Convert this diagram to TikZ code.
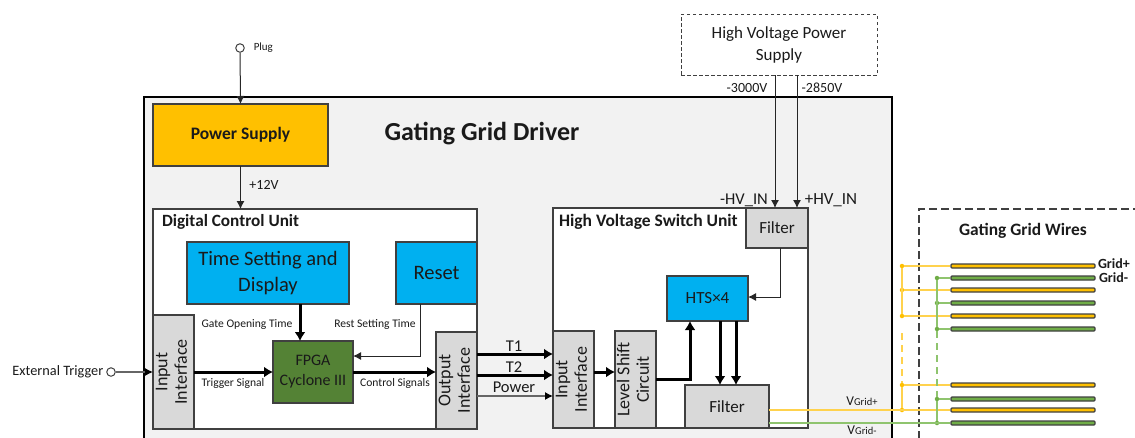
\documentclass[tikz,border=0pt]{standalone}
\usepackage{xcolor}
\usepackage{fontspec}
\setmainfont{Carlito}
\usetikzlibrary{arrows.meta}
\usetikzlibrary{positioning}
\definecolor{boxline}{HTML}{404040}
\definecolor{wireor}{HTML}{FFC000}
\definecolor{wiregr}{HTML}{70AD47}
\definecolor{linkorc}{HTML}{FFD24D}
\definecolor{linkgrc}{HTML}{8FC46E}
\definecolor{fpgagr}{HTML}{548235}
\definecolor{bluebox}{HTML}{00B0F0}
\definecolor{graybox}{HTML}{D9D9D9}
\definecolor{inkc}{HTML}{1A1A1A}
\newcommand{\fs}[1]{\fontsize{#1}{#1}\selectfont}
\newcommand{\vlabel}[2]{\rotatebox{90}{\begin{tabular}{@{}c@{}}#1\\[1.5pt]#2\end{tabular}}}
\tikzset{
    sized/.style 2 args = {minimum width=#1 pt, minimum height=#2 pt, inner sep=0pt, outer sep=0pt},
    block/.style = {draw=boxline, line width=1.2pt, align=center, text=inkc},
    unitbox/.style = {block, fill=white},
    graynode/.style = {block, fill=graybox, font=\fs{18}},
    bluenode/.style = {block, fill=bluebox, font=\fs{20.5}},
    lab/.style = {inner sep=0pt, outer sep=0pt, text=inkc, align=center},
    thinarrow/.style = {draw=black!85, line width=1pt, -{Latex[length=8pt,width=8pt]}},
    grayarrow/.style = {draw=black!60, line width=1.2pt, -{Latex[length=8pt,width=8pt]}, /tikz/arrows={-{Latex[length=8pt,width=8pt,black]}}},
    thickarrow/.style = {draw=black, line width=3pt, -{Latex[length=9pt,width=11pt]}},
    linkor/.style = {draw=linkorc, line width=1.2pt},
    linkgr/.style = {draw=linkgrc, line width=1.2pt},
    dotor/.style = {circle, fill=wireor, minimum size=4.5pt, inner sep=0pt},
    dotgr/.style = {circle, fill=wiregr, minimum size=4.5pt, inner sep=0pt},
    wirebar/.style = {draw=boxline, line width=1.2pt, rounded corners=1pt, minimum width=144pt, minimum height=4pt, inner sep=0pt},
    portc/.style = {circle, draw=boxline, fill=white, line width=1pt, minimum size=8.5pt, inner sep=0pt},
}
\begin{document}
\begin{tikzpicture}[x=1pt, y=-1pt]
\useasboundingbox (0,0) rectangle (1135,437);
\clip (0,0) rectangle (1135,437);
% driver and outer frames
\node[sized={748}{380}, draw=black, line width=2.4pt, fill=black!5] at (518,287) (driver) {};
\node[sized={300}{270}, draw=boxline, line width=1.2pt, dashed, dash pattern=on 8pt off 4pt] at (1069,344) (wires) {};
\node[lab, font=\fs{26}\bfseries] at (482,134) (title) {Gating Grid Driver};
\node[lab, font=\fs{17.4}\bfseries] at (1023,231) (wirestitle) {Gating Grid Wires};
% high voltage supply
\node[sized={196}{61}, block, fill=white, dashed, line width=1pt, dash pattern=on 3.5pt off 2.5pt, font=\fs{17}] at (779,44.5) (hvps) {High Voltage Power\\[5pt]Supply};
% plug and power
\node[portc] at (240,48) (plug) {};
\node[lab, font=\fs{11}, right=9pt of plug] (pluglab) {Plug};
\node[sized={175}{62}, block, fill=wireor, font=\fs{17.5}\bfseries] at (240.5,135) (power) {Power Supply};
% digital control unit
\node[sized={324}{220}, unitbox] at (315,319) (dcu) {};
\node[lab, font=\fs{17.2}\bfseries, anchor=west] at (162,222) (dculab) {Digital Control Unit};
\node[sized={162}{62}, bluenode] at (268,273) (timeset) {Time Setting and\\[6pt]Display};
\node[sized={81}{62}, bluenode] at (436.5,273) (reset) {Reset};
\node[sized={41}{114}, graynode] at (173.5,372) (dinput) {\vlabel{Input}{Interface}};
\node[sized={80}{62}, block, fill=fpgagr, font=\fs{16}] at (313,372) (fpga) {FPGA\\[4pt]Cyclone III};
\node[sized={41}{97}, graynode] at (456.5,380.5) (doutput) {\vlabel{Output}{Interface}};
% high voltage switch unit
\node[sized={255}{220}, unitbox] at (680.5,318) (hvsu) {};
\node[lab, font=\fs{17.5}\bfseries, anchor=west] at (559,222) (hvsulab) {High Voltage Switch Unit};
\node[sized={62}{40}, graynode, font=\fs{17}] at (777,228) (hvfilter) {Filter};
\node[sized={81}{45}, block, fill=bluebox, font=\fs{17}] at (707.5,298.5) (hts) {HTS×4};
\node[sized={41}{97}, graynode] at (573.5,379.5) (hinput) {\vlabel{Input}{Interface}};
\node[sized={41}{97}, graynode] at (635.5,379.5) (level) {\vlabel{Level Shift}{Circuit}};
\node[sized={84}{43}, graynode, font=\fs{17}] at (727,406.5) (outfilter) {Filter};
% external trigger
\node[portc] at (111,372) (extport) {};
\node[lab, font=\fs{14.3}, left=3pt of extport] (extlab) {External Trigger};
\draw[grayarrow] (extport) -- (dinput.west |- extport);
% arrows, digital part
\draw[thinarrow] (plug) -- (power.north);
\draw[thinarrow] (power.south) -- (dcu.north -| power.south);
\draw[thickarrow] (dinput.east |- fpga.west) -- (fpga.west);
\draw[thickarrow] (fpga.east) -- (doutput.west |- fpga.east);
\draw[thickarrow] (timeset.south -| 300,0) -- (fpga.north -| 300,0);
\draw[thinarrow] (reset.south -| 420,0) -- (420,356) -- (fpga.east |- 0,356);
% links between the units
\draw[thickarrow] (doutput.east |- 0,354) -- (hinput.west |- 0,354);
\draw[thickarrow] (doutput.east |- 0,375) -- (hinput.west |- 0,375);
\draw[grayarrow] (doutput.east |- 0,396) -- (hinput.west |- 0,396);
\node[lab, font=\fs{16.5}] at (514,346) (t1lab) {T1};
\node[lab, font=\fs{16.5}] at (514,367) (t2lab) {T2};
\node[lab, font=\fs{16.5}] at (514,387) (powerlab) {Power};
% arrows, high voltage part
\draw[thickarrow] (hinput.east |- 0,372) -- (level.west |- 0,372);
\draw[thickarrow] (level.east |- 0,379) -- (690,379) -- (hts.south -| 690,0);
\draw[thickarrow] (hts.south -| 720,0) -- (outfilter.north -| 720,0);
\draw[thickarrow] (hts.south -| 736,0) -- (outfilter.north -| 736,0);
\draw[thinarrow] (hvfilter.south -| 780,0) -- (780,297) -- (hts.east |- 0,297);
\draw[thinarrow] (hvps.south -| 775,0) -- (hvfilter.north -| 775,0);
\draw[thinarrow] (hvps.south -| 797,0) -- (hvfilter.north -| 797,0);
% small labels
\node[lab, font=\fs{11.6}] at (247,324) (gatelab) {Gate Opening Time};
\node[lab, font=\fs{11.6}] at (375,324) (restlab) {Rest Setting Time};
\node[lab, font=\fs{11.6}] at (233,383) (triglab) {Trigger Signal};
\node[lab, font=\fs{11.6}] at (395,383) (ctrllab) {Control Signals};
\node[lab, font=\fs{14}] at (264,185) (v12lab) {+12V};
\node[lab, font=\fs{14}] at (747,88) (m3000lab) {-3000V};
\node[lab, font=\fs{14}] at (822,88) (m2850lab) {-2850V};
\node[lab, font=\fs{16.5}] at (744,200) (hvminus) {-HV\_IN};
\node[lab, font=\fs{17}] at (831,200) (hvplus) {+HV\_IN};
\node[lab, font=\fs{13.5}] at (862,401) (vplus) {V{\fs{10.5}Grid+}};
\node[lab, font=\fs{13.5}] at (862,430) (vminus) {V{\fs{10.5}Grid-}};
% grid wires
\foreach \wy in {266,290,316,385,410} {
    \node[wirebar, fill=wireor] at (1023,\wy) (wor\wy) {};
    \node[dotor] at (902,\wy) (dor\wy) {};
}
\foreach \wy in {278,303,329,399,423} {
    \node[wirebar, fill=wiregr] at (1023,\wy) (wgr\wy) {};
    \node[dotgr] at (937,\wy) (dgr\wy) {};
}
\foreach \wy in {266,290,316,385}
    \draw[linkor] (dor\wy) -- (wor\wy);
\foreach \wy in {278,303,329,399}
    \draw[linkgr] (dgr\wy) -- (wgr\wy);
\draw[linkor] (outfilter.east |- wor410) -- (wor410);
\draw[linkgr] (outfilter.east |- wgr423) -- (wgr423);
\coordinate (orgap) at (902,333);
\draw[linkor] (dor266) -- (dor316);
\draw[linkor, dashed, dash pattern=on 7pt off 5pt] (orgap) -- (dor385);
\draw[linkor] (dor385) -- (dor410);
\draw[linkgr] (dgr278) -- (dgr329);
\draw[linkgr, dashed, dash pattern=on 7pt off 5pt] (dgr329) -- (dgr399);
\draw[linkgr] (dgr399) -- (dgr423);
\node[lab, font=\fs{14}\bfseries, anchor=west] at (1098,264) (gplus) {Grid+};
\node[lab, font=\fs{14}\bfseries, anchor=west] at (1099,278) (gminus) {Grid-};
\end{tikzpicture}
\end{document}
